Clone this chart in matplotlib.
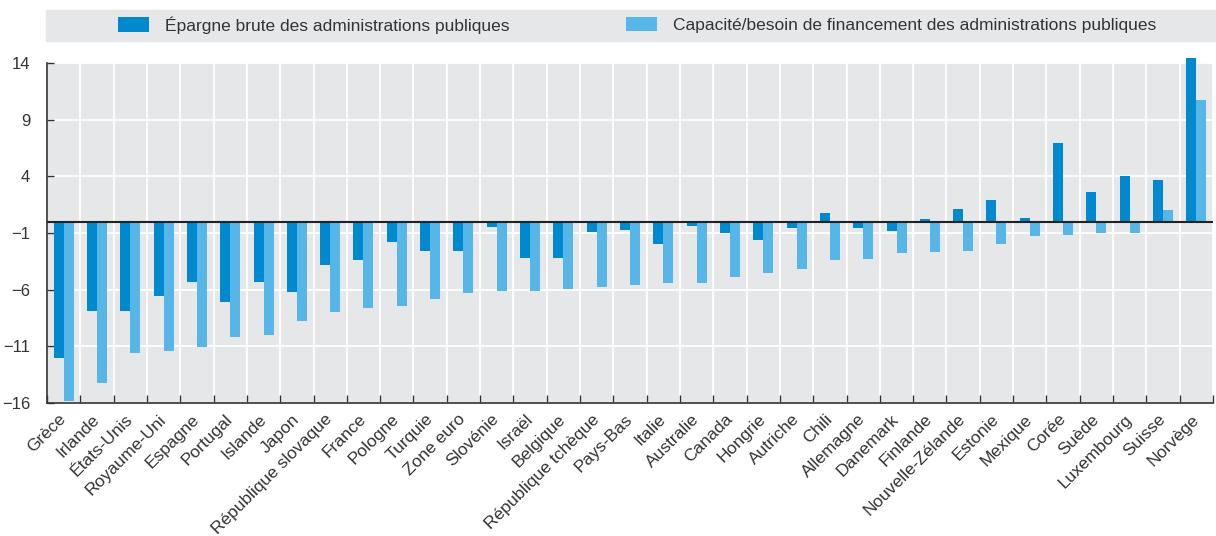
import numpy as np
import matplotlib
matplotlib.use("Agg")
import matplotlib.pyplot as plt
from matplotlib.patches import Rectangle
from matplotlib.transforms import ScaledTranslation

plt.rcParams['font.family'] = ['Liberation Sans Narrow', 'Liberation Sans', 'DejaVu Sans']

# Données
pays = ["Grèce", "Irlande", "États-Unis", "Royaume-Uni", "Espagne", "Portugal",
        "Islande", "Japon", "République slovaque", "France", "Pologne", "Turquie",
        "Zone euro", "Slovénie", "Israël", "Belgique", "République tchèque",
        "Pays-Bas", "Italie", "Australie", "Canada", "Hongrie", "Autriche",
        "Chili", "Allemagne", "Danemark", "Finlande", "Nouvelle-Zélande",
        "Estonie", "Mexique", "Corée", "Suède", "Luxembourg", "Suisse", "Norvège"]

epargne = [-12.0, -7.9, -7.9, -6.6, -5.3, -7.1, -5.3, -6.2, -3.8, -3.4, -1.8,
           -2.6, -2.6, -0.5, -3.2, -3.2, -0.9, -0.7, -2.0, -0.4, -1.0, -1.6,
           -0.6, 0.8, -0.6, -0.8, 0.2, 1.1, 1.9, 0.3, 6.9, 2.6, 4.0, 3.7, 14.4]

capacite = [-15.8, -14.2, -11.6, -11.4, -11.1, -10.2, -10.0, -8.8, -8.0, -7.6,
            -7.4, -6.8, -6.3, -6.1, -6.1, -5.9, -5.8, -5.6, -5.4, -5.4, -4.9,
            -4.5, -4.2, -3.4, -3.3, -2.8, -2.7, -2.6, -2.0, -1.3, -1.2, -1.0,
            -1.0, 1.0, 10.7]

noms_series = ["Épargne brute des administrations publiques",
               "Capacité/besoin de financement des administrations publiques"]
couleurs = ["#0089cf", "#55b6e7"]
fond = "#e6e7e9"
texte = "#333333"

fig = plt.figure(figsize=(12.16, 5.36), dpi=100)
ax = fig.add_axes([47 / 1216, 1 - 403 / 536, (1213 - 47) / 1216, (403 - 63) / 536])
ax.set_facecolor(fond)

x = np.arange(len(pays))
largeur = 0.3
b1 = ax.bar(x - largeur / 2, epargne, largeur, color=couleurs[0], zorder=3, clip_on=False)
b2 = ax.bar(x + largeur / 2, capacite, largeur, color=couleurs[1], zorder=3, clip_on=False)

ax.axhline(0, color="#222222", lw=1.5, zorder=4)

ax.set_xlim(-0.5, len(pays) - 0.5)
ax.set_ylim(-16, 14)
ax.set_yticks([-16, -11, -6, -1, 4, 9, 14])

# ticks aux limites des catégories, étiquettes au centre
ax.set_xticks(np.arange(len(pays) + 1) - 0.5)
ax.set_xticklabels([])
ax.set_xticks(x, minor=True)
ax.set_xticklabels(pays, minor=True, rotation=45, ha="right", va="center",
                   rotation_mode="anchor", fontsize=12.5, color=texte)
decalage = ScaledTranslation(-3 / 100, 0, fig.dpi_scale_trans)
for lab in ax.get_xticklabels(minor=True):
    lab.set_transform(lab.get_transform() + decalage)
ax.tick_params(axis="x", which="major", direction="in", length=5.5, width=1, color="#333333")
ax.tick_params(axis="x", which="minor", length=0, pad=10)
ax.tick_params(axis="y", direction="in", length=5, width=1, color="#333333",
               labelsize=12, labelcolor=texte, pad=12)

ax.grid(True, which="major", color="white", lw=1.3, zorder=1)
ax.set_axisbelow(True)

for s in ["top", "right"]:
    ax.spines[s].set_visible(False)
for s in ["left", "bottom"]:
    ax.spines[s].set_color("#333333")
    ax.spines[s].set_linewidth(1.2)

# bandeau de légende
fig.patches.append(Rectangle((46 / 1216, 1 - 41 / 536), (1216 - 46) / 1216, 31 / 536,
                             transform=fig.transFigure, color=fond, zorder=0))
for barres, nom, xpos in [(b1, noms_series[0], 118), (b2, noms_series[1], 626)]:
    fig.legend([barres], [nom], loc="center left", bbox_to_anchor=(xpos / 1216, 1 - 25 / 536),
               frameon=False, fontsize=12.5, handlelength=1.78, handleheight=0.92,
               handletextpad=0.92, borderpad=0, borderaxespad=0, labelcolor=texte)

fig.savefig("out.png", dpi=100)
